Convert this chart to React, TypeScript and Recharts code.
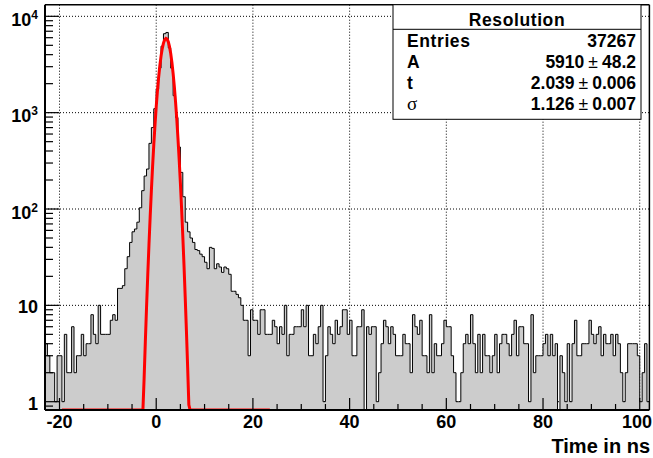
import React from "react";
import {
  ComposedChart,
  Area,
  Line,
  XAxis,
  YAxis,
  CartesianGrid,
  ReferenceLine,
} from "recharts";

// histogram binning (ns)
const binLow = -23;
const binWidth = 0.5;

// counts per bin
const countsTailLeft = [
  4, 3, 2, 2, 1, 3, 3, 1, 5, 2, 2, 6, 2, 3, 3, 5, 3, 4, 4, 8, 5, 4, 10, 5, 5,
  5, 5, 7, 8, 7, 15, 15, 16, 24, 32, 45, 58, 62,
];
const countsPeak = [
  73, 103, 155, 220, 260, 480, 700, 1100, 1750, 2900, 4900, 6600, 6800, 4700,
  2900, 1500, 890, 440, 240, 134, 73, 58, 50,
];
const countsShoulder = [
  45, 38, 37, 34, 32, 28, 24, 40, 39, 24, 27, 25, 22, 25, 24, 21, 14, 14, 13,
  12, 10, 7, 7, 3,
];
const countsFlat = [
  9, 7, 7, 5, 9, 9, 5, 5, 5, 7, 6, 4, 6, 5, 10, 3, 5, 5, 6, 6, 6, 9, 6, 10, 3,
  3, 5, 4, 6, 10, 1, 3, 6, 5, 4, 7, 5, 6, 9, 9, 5, 7, 3, 3, 6, 6, 9, 0, 6, 5,
  6, 6, 1, 2, 4, 7, 6, 4, 6, 5, 3, 3, 3, 5, 4, 4, 2, 8, 6, 5, 7, 3, 3, 2, 8, 2,
  4, 3, 3, 4, 7, 6, 6, 3, 2, 1, 1, 2, 4, 5, 4, 8, 4, 2, 5, 2, 5, 3, 3, 2, 3, 5,
  2, 4, 5, 5, 4, 3, 5, 7, 3, 6, 6, 4, 4, 1, 8, 2, 3, 3, 3, 4, 5, 3, 5, 3, 4, 0,
  3, 2, 1, 4, 1, 4, 7, 3, 3, 4, 4, 4, 7, 5, 4, 5, 6, 3, 5, 4, 4, 5, 3, 5, 4, 2,
  1, 2, 4, 4, 4, 4, 3, 1, 2, 4, 1,
];

// red fit curve, sampled off the plot
const fitX = [
  -19.5, -3.25, -3, -2.75, -2.5, -2.25, -2, -1.75, -1.5, -1.25, -1, -0.75, -0.5,
  -0.25, 0, 0.25, 0.5, 0.75, 1, 1.25, 1.5, 1.75, 2, 2.25, 2.5, 2.75, 3, 3.25,
  3.5, 3.75, 4, 4.25, 4.5, 4.75, 5, 5.25, 5.5, 5.75, 6, 6.25, 6.5, 6.75, 7,
  7.25, 23.5,
];
const fitY = [
  0, 0.1, 0.27, 0.69, 1.75, 4.18, 9.49, 20.5, 42.3, 82.9, 155, 275, 465, 748,
  1147, 1673, 2322, 3068, 3861, 4623, 5270, 5718, 5906, 5807, 5435, 4842, 4106,
  3314, 2547, 1863, 1297, 860, 542, 326, 186, 101, 52.5, 25.9, 12.1, 5.42, 2.3,
  0.93, 0.36, 0.13, 0,
];

const xTicks = [
  -20, -15, -10, -5, 0, 5, 10, 15, 20, 25, 30, 35, 40, 45, 50, 55, 60, 65, 70,
  75, 80, 85, 90, 95, 100,
];
const xGrid = [-20, 0, 20, 40, 60, 80, 100];
const yTicks = [
  0.9, 1, 2, 3, 4, 5, 6, 7, 8, 9, 10, 20, 30, 40, 50, 60, 70, 80, 90, 100, 200,
  300, 400, 500, 600, 700, 800, 900, 1000, 2000, 3000, 4000, 5000, 6000, 7000,
  8000, 9000, 10000,
];
const yGrid = [1, 10, 100, 1000, 10000];

const statsTitle = "Resolution";
const statsLabels = ["Entries", "A", "t", "σ"];
const statsValues = ["37267", "5910", "2.039", "1.126"];
const statsErrors = ["", "48.2", "0.006", "0.007"];

const X_MIN = -23;
const X_MAX = 102;
const Y_MIN = 0.82;
const Y_MAX = 13200;

const counts = [...countsTailLeft, ...countsPeak, ...countsShoulder, ...countsFlat];
// empty bins fall below the log axis and get clipped, like ROOT does
const histData = counts.map((c, i) => ({ x: binLow + i * binWidth, n: Math.max(c, 0.1) }));
histData.push({
  x: binLow + counts.length * binWidth,
  n: Math.max(counts[counts.length - 1], 0.1),
});
const fitData = fitX.map((x, i) => ({ x, f: Math.max(fitY[i], Y_MIN) }));

const FONT = "'Liberation Sans', Arial, Helvetica, sans-serif";

const XTick = (props: any) => {
  const { x, y, payload } = props;
  const v = payload.value;
  const major = v % 20 === 0;
  // keep the last label inside the canvas
  const tx = Math.min(x, 652 - 15);
  return (
    <g>
      <line x1={x} x2={x} y1={y} y2={y - (major ? 12 : 6)} stroke="#000" strokeWidth={1.2} />
      {major && (
        <text x={tx} y={y + 18} textAnchor="middle" fontSize={18} fontWeight="bold" fontFamily={FONT} fill="#000">
          {v}
        </text>
      )}
    </g>
  );
};

const YTick = (props: any) => {
  const { x, y, payload } = props;
  const v = payload.value;
  const lg = Math.log10(v);
  const exp = Math.round(lg);
  const major = Math.abs(lg - exp) < 1e-6;
  let label = null;
  if (major) {
    if (exp <= 1) {
      label = (
        <text x={x - 7} y={y + 8} textAnchor="end" fontSize={18} fontWeight="bold" fontFamily={FONT} fill="#000">
          {v}
        </text>
      );
    } else {
      label = (
        <text x={x - 7} y={y + 9.5} textAnchor="end" fontSize={18} fontWeight="bold" fontFamily={FONT} fill="#000">
          <tspan>10</tspan>
          <tspan dy={-7} fontSize={12}>
            {exp}
          </tspan>
        </text>
      );
    }
  }
  return (
    <g>
      <line x1={x} x2={x + (major ? 14 : 8)} y1={y} y2={y} stroke="#000" strokeWidth={1.2} />
      {label}
    </g>
  );
};

export default function App() {
  const rowY = [46.7, 68.3, 89.3, 110];
  return (
    <div style={{ position: "absolute", left: 0, top: 0, width: 653, height: 458, background: "#fff" }}>
      <ComposedChart
        width={653}
        height={458}
        data={histData}
        margin={{ top: 4.7, right: 3.6, bottom: 0, left: 0 }}
      >
        <CartesianGrid
          horizontalValues={yGrid}
          verticalValues={xGrid}
          stroke="#000"
          strokeDasharray="1 2"
          strokeWidth={1}
        />
        <XAxis
          type="number"
          dataKey="x"
          domain={[X_MIN, X_MAX]}
          allowDataOverflow
          ticks={xTicks}
          interval={0}
          height={48}
          tickLine={false}
          tickSize={0}
          tickMargin={0}
          tick={<XTick />}
          axisLine={{ stroke: "#000", strokeWidth: 2 }}
        />
        <YAxis
          type="number"
          scale="log"
          domain={[Y_MIN, Y_MAX]}
          allowDataOverflow
          ticks={yTicks}
          interval={0}
          width={45}
          tickLine={false}
          tickSize={0}
          tickMargin={0}
          tick={<YTick />}
          axisLine={{ stroke: "#000", strokeWidth: 2 }}
        />
        <Area
          type="stepAfter"
          dataKey="n"
          stroke="#000"
          strokeWidth={1}
          fill="#cccccc"
          fillOpacity={1}
          isAnimationActive={false}
        />
        <Line
          data={fitData}
          type="linear"
          dataKey="f"
          stroke="#ff0000"
          strokeWidth={3}
          dot={false}
          activeDot={false}
          isAnimationActive={false}
        />
        <ReferenceLine y={Y_MAX} stroke="#000" strokeWidth={1.5} />
        <ReferenceLine x={X_MAX} stroke="#000" strokeWidth={1.5} />
      </ComposedChart>
      <svg
        width={653}
        height={458}
        style={{ position: "absolute", left: 0, top: 0, pointerEvents: "none" }}
        fontFamily={FONT}
      >
        <rect x={393} y={4.7} width={248} height={114.6} fill="#fff" stroke="#000" strokeWidth={1} />
        <line x1={393} x2={641} y1={29.3} y2={29.3} stroke="#000" strokeWidth={1} />
        <text x={517} y={26} textAnchor="middle" fontSize={17.5} fontWeight="bold" letterSpacing={0.6}>
          {statsTitle}
        </text>
        {statsLabels.map((lab, i) => (
          <text
            key={lab}
            x={407}
            y={rowY[i]}
            fontSize={lab === "σ" ? 19 : 17.5}
            fontWeight={lab === "σ" ? "normal" : "bold"}
            fontFamily={lab === "σ" ? "'Liberation Serif', serif" : FONT}
            letterSpacing={0.6}
          >
            {lab}
          </text>
        ))}
        {statsValues.map((val, i) => (
          <text key={val} x={636} y={rowY[i]} textAnchor="end" fontSize={17.5} fontWeight="bold">
            <tspan>{val}</tspan>
            {statsErrors[i] && (
              <>
                <tspan dx={4} fontWeight="normal">±</tspan>
                <tspan dx={4}>{statsErrors[i]}</tspan>
              </>
            )}
          </text>
        ))}
        <text x={650} y={453} textAnchor="end" fontSize={20} fontWeight="bold">
          Time in ns
        </text>
      </svg>
    </div>
  );
}
